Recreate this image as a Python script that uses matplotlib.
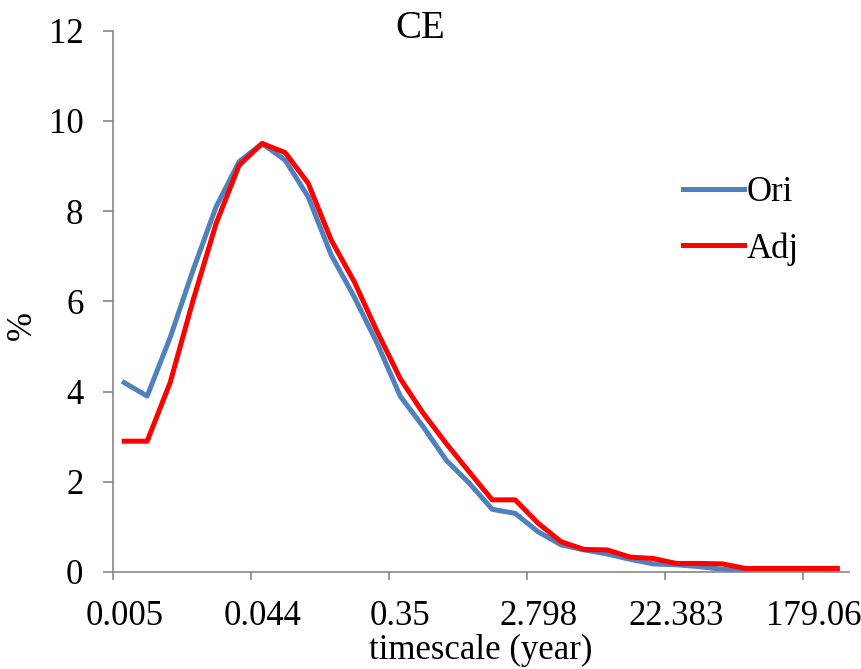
import matplotlib
matplotlib.use('Agg')
from matplotlib import pyplot as plt

# Chart values (32 timescale categories)
tick_labels = ['0.005', '0.044', '0.35', '2.798', '22.383', '179.06']
ori = [4.2, 3.9, 5.2, 6.7, 8.1, 9.1, 9.5, 9.13, 8.32, 7.03,
       6.1, 5.07, 3.9, 3.22, 2.48, 1.97, 1.39, 1.3, 0.89, 0.6,
       0.49, 0.4, 0.28, 0.18, 0.16, 0.12, 0.06, 0.02, 0.01, 0.01,
       0.05, 0.06]
adj = [2.9, 2.9, 4.2, 6.03, 7.73, 9.02, 9.5, 9.3, 8.62, 7.36,
       6.44, 5.33, 4.29, 3.52, 2.85, 2.22, 1.6, 1.6, 1.08, 0.67,
       0.5, 0.49, 0.33, 0.3, 0.19, 0.19, 0.18, 0.08, 0.08, 0.08,
       0.08, 0.08]

plt.rcParams['font.family'] = ['Liberation Serif', 'DejaVu Serif']
axis_gray = '#868686'
fs = 25

fig = plt.figure(figsize=(8.62, 6.69), dpi=100)
ax = fig.add_axes([0.1307, 0.145, 0.8539, 0.809])

x = list(range(len(ori)))
ax.plot(x, ori, color='#4F81BD', lw=3.6, label='Ori', solid_joinstyle='round')
ax.plot(x, adj, color='#FF0000', lw=3.6, label='Adj', solid_joinstyle='round')

ax.set_xlim(-0.5, len(ori) - 0.5)
ax.set_ylim(0, 12)
ax.set_yticks(range(0, 13, 2))

# labels on every 6th category, tick marks at category boundaries
ax.set_xticks([i * 6 for i in range(len(tick_labels))])
ax.set_xticklabels(tick_labels)
ax.set_xticks([i * 6 - 0.5 for i in range(len(tick_labels))], minor=True)
ax.tick_params(axis='x', which='major', length=0, labelsize=fs, pad=20)
ax.tick_params(axis='x', which='minor', length=6, color=axis_gray, width=1.2)
ax.tick_params(axis='y', length=7, color=axis_gray, width=1.2, labelsize=fs, pad=14)

for side in ['top', 'right']:
    ax.spines[side].set_visible(False)
for side in ['left', 'bottom']:
    ax.spines[side].set_color(axis_gray)
    ax.spines[side].set_linewidth(1.2)

ax.set_xlabel('timescale (year)', fontsize=fs, labelpad=1)
fig.text(0.026, 0.514, '%', fontsize=fs, rotation=90, ha='center', va='center')
fig.text(0.488, 0.958, 'CE', fontsize=28, ha='center', va='center')

ax.legend(loc='upper left', bbox_to_anchor=(0.776, 0.757), bbox_transform=fig.transFigure,
          frameon=False, fontsize=fs, handlelength=1.75, handletextpad=0.1,
          labelspacing=0.65, borderaxespad=0)

plt.savefig('out.png', dpi=100)
plt.close()
